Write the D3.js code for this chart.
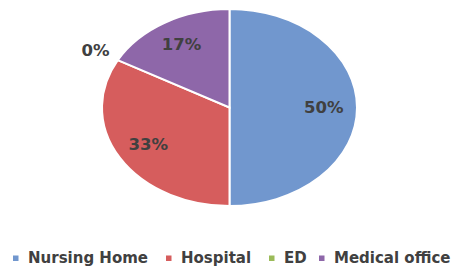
<!DOCTYPE html>
<html>
<head>
<meta charset="utf-8">
<script src="https://cdnjs.cloudflare.com/ajax/libs/d3/7.8.5/d3.min.js"></script>
<style>
  body { margin: 0; background: #fff; }
  text { font-family: "DejaVu Sans", Verdana, sans-serif; font-weight: bold; fill: #404040; }
</style>
</head>
<body>
<svg></svg>
<script>
var categories = ["Nursing Home", "Hospital", "ED", "Medical office"];
var values = [50, 33, 0, 17];
var colors = ["#7197CE", "#D65D5D", "#9BBB59", "#8E67A9"];

var svgWidth = 457, svgHeight = 267;
var svg = d3.select("svg").attr("width", svgWidth).attr("height", svgHeight);

// ellipse pie: draw a circle of radius ry and stretch it in x
var cx = 229.5, cy = 107.5, rx = 127.5, ry = 98.5;

var data = categories.map(function(c, i) { return {name: c, value: values[i], color: colors[i]}; });

var pie = d3.pie().sort(null).value(function(d) { return d.value; });
var arcs = pie(data);

var arc = d3.arc().innerRadius(0).outerRadius(ry);

var group = svg.append("g")
  .attr("transform", "translate(" + cx + "," + cy + ") scale(" + (rx / ry) + ",1)");

group.selectAll("path")
  .data(arcs.filter(function(d) { return d.value > 0; }))
  .enter()
  .append("path")
  .attr("d", arc)
  .attr("fill", function(d) { return d.data.color; })
  .attr("stroke", "#fff")
  .attr("stroke-width", 2)
  .attr("vector-effect", "non-scaling-stroke");

// labels
function labelPos(d) {
  var a = (d.startAngle + d.endAngle) / 2;
  var k = d.value > 0 ? 0.74 : 1.2;
  return [cx + Math.sin(a) * rx * k, cy - Math.cos(a) * ry * k];
}

svg.selectAll(".lbl")
  .data(arcs)
  .enter()
  .append("text")
  .attr("class", "lbl")
  .attr("x", function(d) { return labelPos(d)[0]; })
  .attr("y", function(d) { return labelPos(d)[1]; })
  .attr("text-anchor", "middle")
  .attr("dominant-baseline", "central")
  .style("font-size", "16.5px")
  .text(function(d) { return d.value + "%"; });

// legend
var legendX = [13, 166, 269, 319];
var legend = svg.selectAll(".leg")
  .data(data)
  .enter()
  .append("g")
  .attr("class", "leg")
  .attr("transform", function(d, i) { return "translate(" + legendX[i] + ",258)"; });

legend.append("rect")
  .attr("x", 0).attr("y", -2.5)
  .attr("width", 5.5).attr("height", 5.5)
  .attr("fill", function(d) { return d.color; });

legend.append("text")
  .attr("x", 15)
  .attr("dominant-baseline", "central")
  .style("font-size", "15px")
  .text(function(d) { return d.name; });
</script>
</body>
</html>
